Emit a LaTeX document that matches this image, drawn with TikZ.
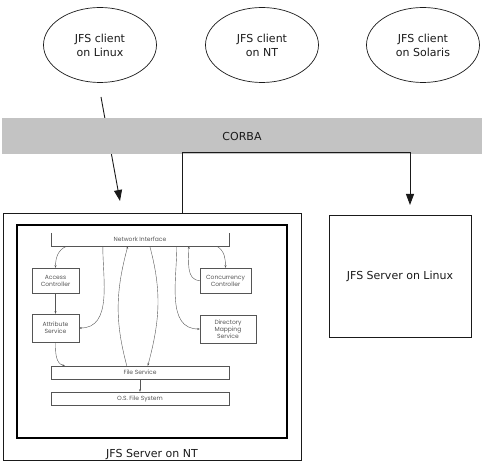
\documentclass[tikz,border=0pt]{standalone}
\usepackage{fontspec}
\setmainfont{DejaVu Sans}
\newfontfamily\partfont{Poppins}
\usetikzlibrary{arrows.meta, calc, shapes.geometric}
\definecolor{ink}{HTML}{1A1A1A}
\definecolor{bandgray}{HTML}{C3C3C3}
\definecolor{subink}{HTML}{555555}

\begin{document}
\begin{tikzpicture}[
    x=1pt, y=-1pt,
    >=Stealth,
    every node/.style={font=\fontsize{11}{14}\selectfont, text=ink},
    % Client ellipse
    client/.style={ellipse, draw=ink, line width=0.7pt, minimum width=113pt,
                   minimum height=75pt, inner sep=0pt, align=center},
    % Server box
    srvbox/.style={rectangle, draw=ink, line width=0.8pt, inner sep=0pt, align=center},
    bigarr/.style={-{Triangle[width=8pt,length=11pt]}, line width=0.9pt, ink},
    % Parts of the server picture
    part/.style={rectangle, draw=subink, line width=0.4pt, inner sep=0pt, align=center,
                 font=\partfont\fontsize{6}{7}\selectfont, text=subink},
    arr/.style={-{Stealth[length=2.6pt,width=2pt]}, line width=0.4pt, subink}
]
\useasboundingbox (0,0) rectangle (482,462);

% ---------- Clients ----------
\node[client] (linuxcl) at (100,45) {JFS client\\on Linux};
\node[client] (ntcl) at (262,45) {JFS client\\on NT};
\node[client] (solcl) at (423,45) {JFS client\\on Solaris};

% Linux client -> NT server (runs behind the bus)
\coordinate (lxout) at (101,97);
\coordinate (ntin) at (120,201);
\draw[bigarr] (lxout) -- (ntin);

% ---------- CORBA bus ----------
\node[rectangle, fill=bandgray, minimum width=480pt, minimum height=36pt, inner sep=0pt]
    (corba) at (242,136) {CORBA};

% ---------- Servers ----------
\node[srvbox, minimum width=298pt, minimum height=247pt] (ntsrv) at (152,336.5) {};
\node[anchor=base] (ntlabel) at ($(ntsrv.south)+(0,-3)$) {JFS Server on NT};
\node[srvbox, minimum width=142pt, minimum height=122pt] (lxsrv) at (400,276) {JFS Server on Linux};

% NT server -> Linux server over the bus
\coordinate (ntout) at ($(ntsrv.north west)+(180,0)$);
\coordinate (bus) at (410,152);
\coordinate (lxin) at (410,205);
\draw[bigarr] (ntout) |- (bus) -- (lxin);

% ---------- Inside the NT server ----------
\node[rectangle, draw=black, line width=1.6pt, minimum width=270pt, minimum height=213pt,
      inner sep=0pt] (ntimg) at (152,331.5) {};

\node[part, draw=none, minimum width=178pt, minimum height=13pt] (netif) at (140,239.5) {Network Interface};
\draw[subink, line width=0.4pt] (netif.north west) |- (netif.south east) -- (netif.north east);
\node[part, minimum width=47pt, minimum height=25pt] (access) at (55.5,280.5) {Access\\Controller};
\node[part, minimum width=47pt, minimum height=28pt] (attrib) at (55.5,328) {Attribute\\Service};
\node[part, minimum width=51pt, minimum height=25pt] (concur) at (225.5,280.5) {Concurrency\\Controller};
\node[part, minimum width=56pt, minimum height=28pt] (dirmap) at (228,329) {Directory\\Mapping\\Service};
\node[part, minimum width=178pt, minimum height=13pt] (filesvc) at (140,372.5) {File Service};
\node[part, minimum width=178pt, minimum height=13pt] (osfs) at (140,398.5) {O.S. File System};

% points under the network interface
\coordinate (n1) at ($(netif.south west)+(16,0)$);
\coordinate (n2) at ($(netif.south west)+(52,0)$);
\coordinate (n3) at ($(netif.south west)+(77,0)$);
\coordinate (n4) at ($(netif.south west)+(99,0)$);
\coordinate (n5) at ($(netif.south west)+(126,0)$);
\coordinate (n6) at ($(netif.south west)+(138,0)$);
\coordinate (n7) at ($(netif.south west)+(166,0)$);
% points on the file service
\coordinate (f1) at ($(filesvc.north west)+(14,0)$);
\coordinate (f2) at ($(filesvc.north west)+(76,0)$);
\coordinate (f3) at ($(filesvc.north west)+(97,0)$);

\draw[arr] (n1) to[out=200, in=90] (access.north);
\draw[arr] (access) -- (attrib);
\draw[arr] (attrib.south) to[out=-90, in=165] (f1);
\draw[arr] (n2) to[out=-90, in=0] (attrib.east);
\draw[arr] (f2) to[out=105, in=-105] (n3);
\draw[arr] (n4) to[out=-75, in=75] (f3);
\draw[arr] (n5) to[out=-90, in=180] (dirmap.west);
\draw[arr] (concur.west) to[out=180, in=-90] (n6);
\draw[arr] (n7) to[out=-30, in=90] (concur.north);
\draw[arr] (filesvc) -- (osfs);

\end{tikzpicture}
\end{document}
